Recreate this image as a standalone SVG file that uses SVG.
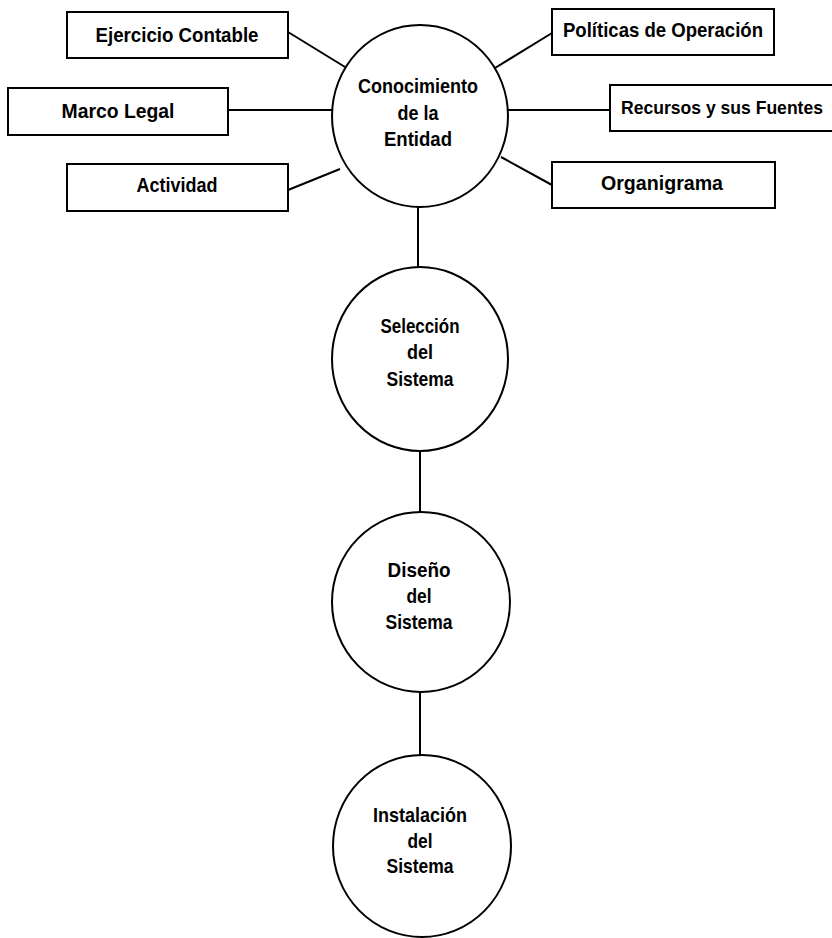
<svg xmlns="http://www.w3.org/2000/svg" width="832" height="938" viewBox="0 0 832 938">
<style>
.box{fill:#fff;stroke:#000;stroke-width:2}
.circ{fill:#fff;stroke:#000;stroke-width:2}
.ln{stroke:#000;stroke-width:2;fill:none}
text{font-family:"Liberation Sans",Arial,sans-serif;font-weight:bold;font-size:21px;text-anchor:middle;fill:#000}
</style>
<rect width="832" height="938" fill="#fff"/>
<g id="connectors">
<line class="ln" x1="288" y1="32" x2="345" y2="67"/>
<line class="ln" x1="228" y1="110" x2="333" y2="110"/>
<line class="ln" x1="288" y1="190" x2="340" y2="169"/>
<line class="ln" x1="495" y1="68" x2="552" y2="33"/>
<line class="ln" x1="508" y1="110" x2="610" y2="110"/>
<line class="ln" x1="501" y1="157" x2="552" y2="185"/>
<line class="ln" x1="418" y1="207" x2="418" y2="268"/>
<line class="ln" x1="420" y1="451" x2="420" y2="512"/>
<line class="ln" x1="420" y1="693" x2="420" y2="755"/>
</g>
<g id="ejercicio"><rect class="box" x="67" y="12" width="221" height="46"/><text x="177" y="42" textLength="163" lengthAdjust="spacingAndGlyphs">Ejercicio Contable</text></g>
<g id="marco"><rect class="box" x="8" y="88" width="220" height="47"/><text x="118" y="118" textLength="113" lengthAdjust="spacingAndGlyphs">Marco Legal</text></g>
<g id="actividad"><rect class="box" x="67" y="164" width="221" height="47"/><text x="177" y="192" textLength="81" lengthAdjust="spacingAndGlyphs">Actividad</text></g>
<g id="politicas"><rect class="box" x="552" y="9" width="222" height="46"/><text x="663" y="37" textLength="200" lengthAdjust="spacingAndGlyphs">Políticas de Operación</text></g>
<g id="recursos"><rect class="box" x="610" y="85" width="240" height="46"/><text x="722" y="114" style="font-size:18px" textLength="202" lengthAdjust="spacingAndGlyphs">Recursos y sus Fuentes</text></g>
<g id="organigrama"><rect class="box" x="552" y="162" width="223" height="46"/><text x="662" y="190" textLength="122" lengthAdjust="spacingAndGlyphs">Organigrama</text></g>
<g id="conocimiento"><ellipse class="circ" cx="420" cy="116" rx="88" ry="91"/><text x="418" y="93" textLength="120" lengthAdjust="spacingAndGlyphs">Conocimiento</text><text x="418" y="120" textLength="41" lengthAdjust="spacingAndGlyphs">de la</text><text x="418" y="146" textLength="68" lengthAdjust="spacingAndGlyphs">Entidad</text></g>
<g id="seleccion"><ellipse class="circ" cx="420" cy="359" rx="88" ry="92"/><text x="420" y="333" textLength="79" lengthAdjust="spacingAndGlyphs">Selección</text><text x="420" y="359" textLength="26" lengthAdjust="spacingAndGlyphs">del</text><text x="420" y="386" textLength="67" lengthAdjust="spacingAndGlyphs">Sistema</text></g>
<g id="diseno"><ellipse class="circ" cx="421" cy="602" rx="89" ry="90"/><text x="419" y="577" textLength="63" lengthAdjust="spacingAndGlyphs">Diseño</text><text x="419" y="603" textLength="25" lengthAdjust="spacingAndGlyphs">del</text><text x="419" y="629" textLength="67" lengthAdjust="spacingAndGlyphs">Sistema</text></g>
<g id="instalacion"><ellipse class="circ" cx="422" cy="846" rx="89" ry="91"/><text x="420" y="822" textLength="94" lengthAdjust="spacingAndGlyphs">Instalación</text><text x="420" y="848" textLength="25" lengthAdjust="spacingAndGlyphs">del</text><text x="420" y="873" textLength="67" lengthAdjust="spacingAndGlyphs">Sistema</text></g>
</svg>
